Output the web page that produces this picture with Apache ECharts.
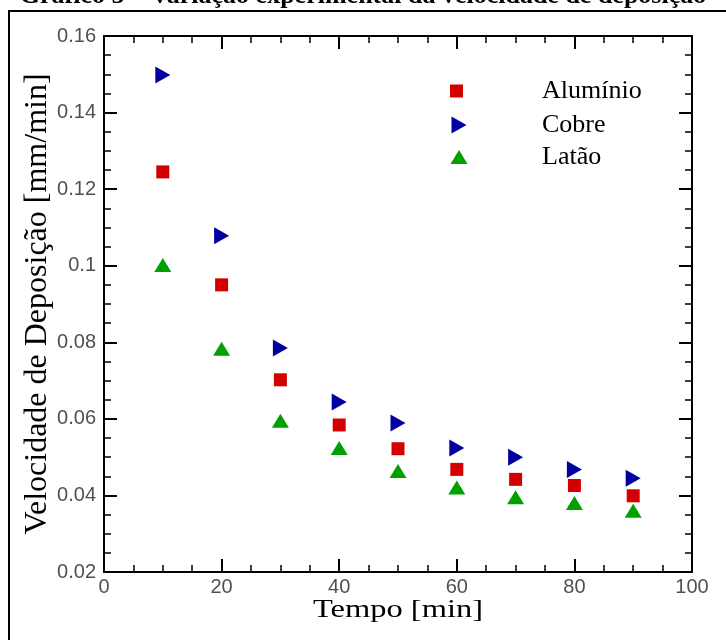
<!DOCTYPE html>
<html>
<head>
<meta charset="utf-8">
<script src="https://cdn.jsdelivr.net/npm/echarts@6/dist/echarts.min.js"></script>
<style>html,body{margin:0;padding:0;background:#fff}#c{width:726px;height:640px}</style>
</head>
<body>
<div id="c"></div>
<script>
const tempo = [10, 20, 30, 40, 50, 60, 70, 80, 90];
const aluminio = [0.1245, 0.0950, 0.0702, 0.0584, 0.0522, 0.0468, 0.0442, 0.0426, 0.0399];
const cobre = [0.1498, 0.1078, 0.0785, 0.0644, 0.0589, 0.0524, 0.0500, 0.0468, 0.0445];
const latao = [0.1002, 0.0783, 0.0595, 0.0524, 0.0464, 0.0421, 0.0395, 0.0380, 0.0360];
const seriesNames = ['Alumínio', 'Cobre', 'Latão'];
const xTicks = [0, 20, 40, 60, 80, 100];
const yTicks = [0.02, 0.04, 0.06, 0.08, 0.1, 0.12, 0.14, 0.16];

const pair = (ys) => tempo.map((x, i) => [x, ys[i]]);
const rightTri = 'path://M0,0 L15,8.5 L0,17 Z';

const chart = echarts.init(document.getElementById('c'), null, {renderer: 'canvas'});

const axisCommon = {
  axisLine: {show: true, onZero: false, lineStyle: {color: '#000', width: 2}},
  axisTick: {show: true, inside: true, length: 13, lineStyle: {color: '#000', width: 2}},
  minorTick: {show: true, splitNumber: 4, length: 7, lineStyle: {color: '#000', width: 1.5}},
  splitLine: {show: false},
  minorSplitLine: {show: false}
};

const legendText = (pad) => ({fontFamily: 'Liberation Serif', fontSize: 26, color: '#000', lineHeight: 26, padding: [0, 0, 0, pad]});

chart.setOption({
  animation: false,
  grid: {left: 104, right: 34, top: 36, bottom: 68},
  xAxis: [
    Object.assign({
      type: 'value', position: 'bottom', min: xTicks[0], max: xTicks[xTicks.length - 1], interval: 20,
      axisLabel: {show: true, margin: 5, color: '#505050', fontFamily: 'Liberation Sans', fontSize: 20}
    }, axisCommon),
    Object.assign({
      type: 'value', position: 'top', min: xTicks[0], max: xTicks[xTicks.length - 1], interval: 20,
      axisLabel: {show: false}
    }, axisCommon)
  ],
  yAxis: [
    Object.assign({
      type: 'value', position: 'left', min: yTicks[0], max: yTicks[yTicks.length - 1], interval: 0.02,
      axisLabel: {show: true, margin: 8, color: '#505050', fontFamily: 'Liberation Sans', fontSize: 20,
        formatter: (v) => String(+v.toFixed(2))},
      name: 'Velocidade de Deposição [mm/min]', nameLocation: 'middle', nameGap: 50, nameMoveOverlap: false,
      nameTextStyle: {fontFamily: 'Liberation Serif', fontSize: 32, color: '#000'}
    }, axisCommon),
    Object.assign({
      type: 'value', position: 'right', min: yTicks[0], max: yTicks[yTicks.length - 1], interval: 0.02,
      axisLabel: {show: false}
    }, axisCommon)
  ],
  legend: [
    {orient: 'vertical', left: 450, top: 78, padding: 0, itemWidth: 13, itemHeight: 13,
      data: [{name: seriesNames[0], icon: 'rect'}], textStyle: legendText(74)},
    {orient: 'vertical', left: 451.5, top: 112, padding: 0, itemWidth: 15, itemHeight: 17,
      data: [{name: seriesNames[1], icon: rightTri}], textStyle: legendText(70.5)},
    {orient: 'vertical', left: 450.5, top: 144, padding: 0, itemWidth: 17, itemHeight: 14,
      data: [{name: seriesNames[2], icon: 'triangle'}], textStyle: legendText(69.5)}
  ],
  series: [
    {name: seriesNames[0], type: 'scatter', data: pair(aluminio), symbol: 'rect', symbolSize: 13,
      itemStyle: {color: '#d40000', opacity: 1}},
    {name: seriesNames[1], type: 'scatter', data: pair(cobre), symbol: rightTri, symbolSize: [15, 17],
      itemStyle: {color: '#0000a0', opacity: 1}},
    {name: seriesNames[2], type: 'scatter', data: pair(latao), symbol: 'triangle', symbolSize: [17, 14],
      itemStyle: {color: '#00a000', opacity: 1}}
  ],
  graphic: [
    {type: 'polyline', shape: {points: [[9, 640], [9, 11], [726, 11]]}, style: {stroke: '#000', lineWidth: 2, fill: null}, silent: true},
    {type: 'text', left: 'center', top: -17, style: {text: 'Gráfico 5 – Variação experimental da velocidade de deposição',
      font: 'bold 26px "Liberation Serif"', fill: '#000'}},
    {type: 'text', x: 398, y: 610, scaleX: 1.25, scaleY: 1,
      style: {text: 'Tempo [min]', font: '26px "Liberation Serif"', fill: '#000', align: 'center', verticalAlign: 'middle'}}
  ]
});
</script>
</body>
</html>
